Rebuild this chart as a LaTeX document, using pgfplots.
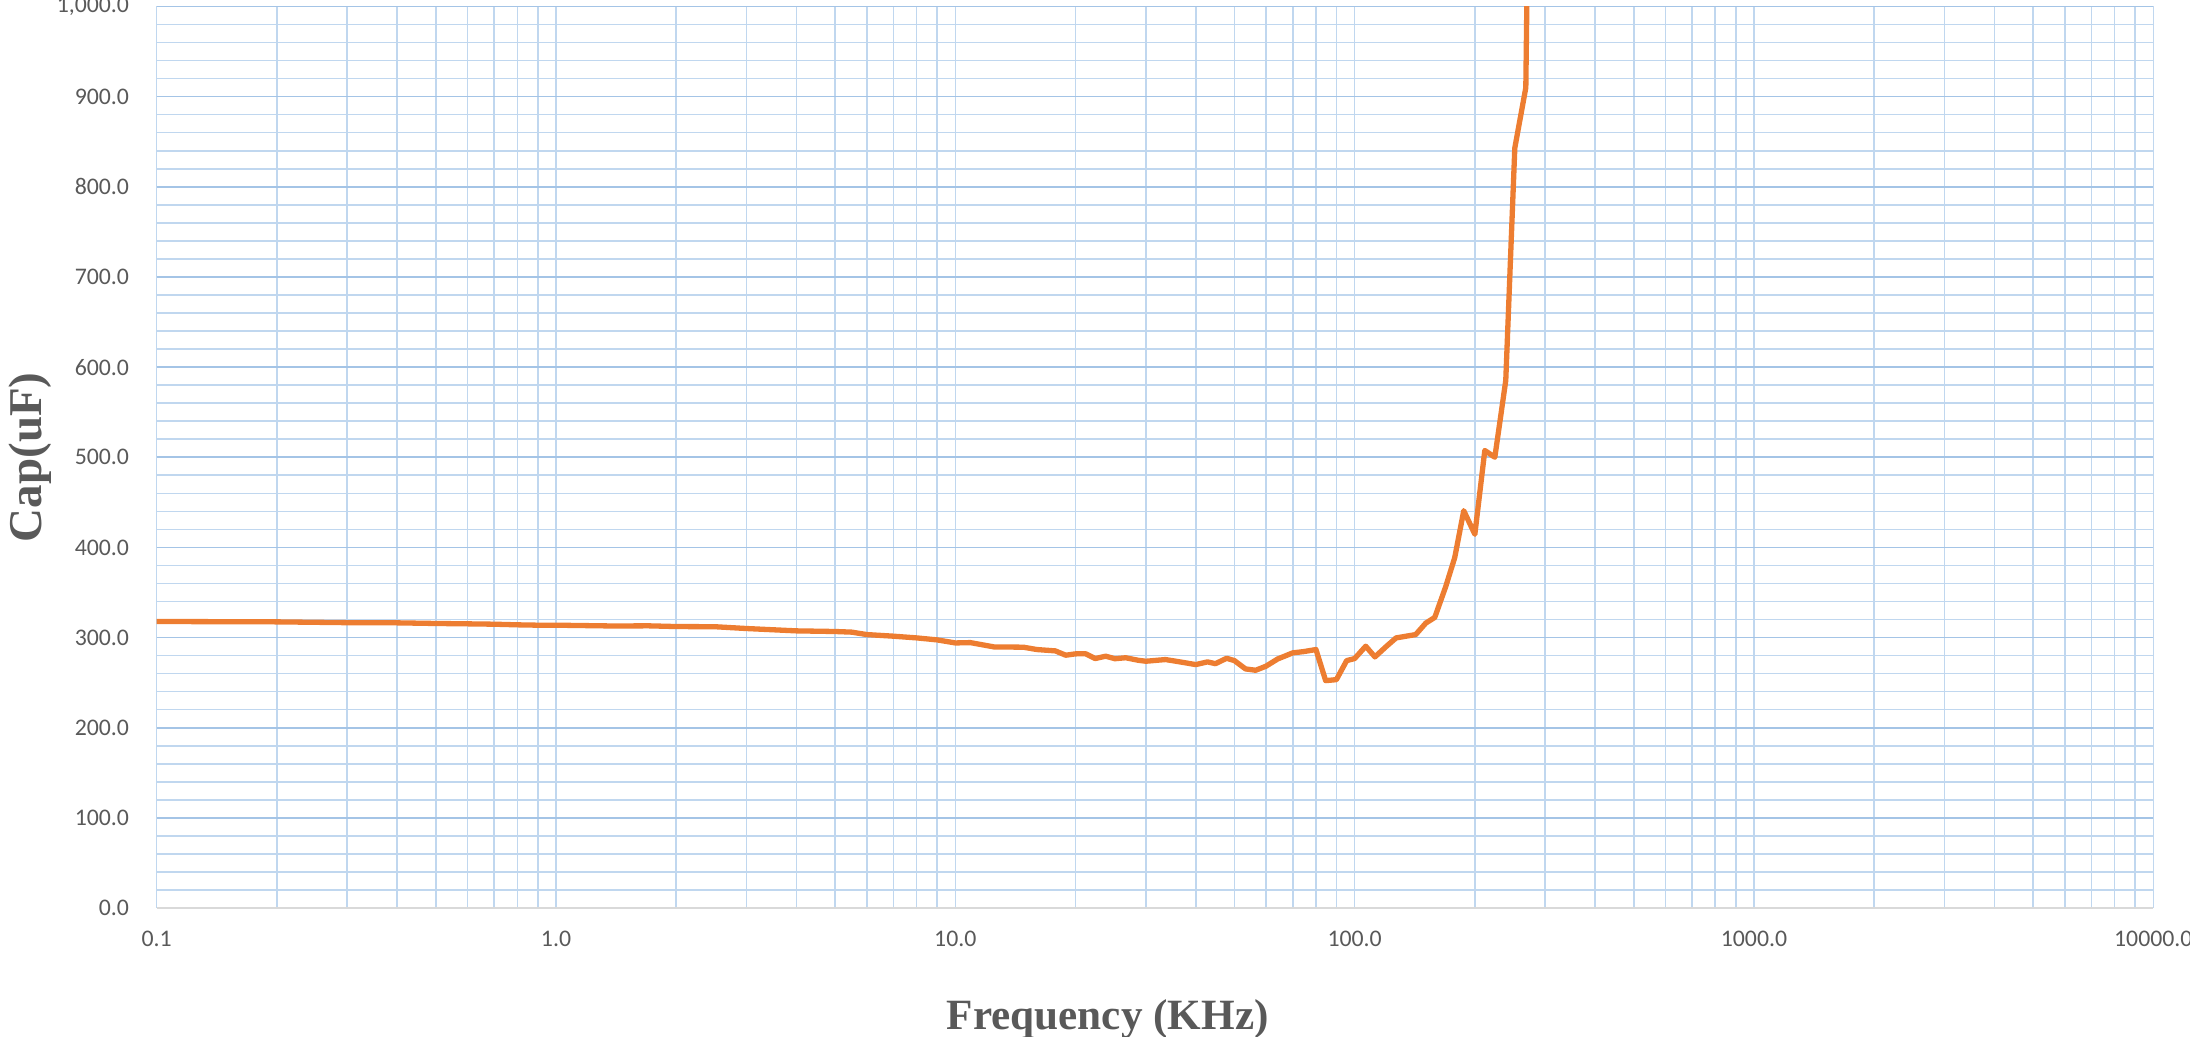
\documentclass[border=0pt]{standalone}
\usepackage{pgfplots}
\pgfplotsset{compat=1.18}
\usepackage{fontspec}
\setmainfont{Carlito}
\newfontfamily\titlefont{Liberation Serif}
\definecolor{lineor}{HTML}{ED7D31}
\definecolor{gmaj}{HTML}{A4C4E6}
\definecolor{gmin}{HTML}{C0D7EF}
\definecolor{txt}{HTML}{595959}
\definecolor{axgray}{HTML}{D9D9D9}
\begin{document}
\begin{tikzpicture}
\begin{axis}[name=ax, scale only axis, width=998.3pt, height=450.75pt,
  xmode=log, xmin=0.1, xmax=10000, ymin=0, ymax=1000,
  xtick={0.1,1,10,100,1000,10000},
  xticklabels={0.1,1.0,10.0,100.0,1000.0,10000.0},
  minor xtick={0.2,0.3,0.4,0.5,0.6,0.7,0.8,0.9,2,3,4,5,6,7,8,9,20,30,40,50,60,70,80,90,200,300,400,500,600,700,800,900,2000,3000,4000,5000,6000,7000,8000,9000},
  ytick={0,100,200,300,400,500,600,700,800,900,1000},
  yticklabels={0.0,100.0,200.0,300.0,400.0,500.0,600.0,700.0,800.0,900.0,{1,000.0}},
  minor y tick num=4,
  grid=both,
  major x grid style={gmin, line width=0.8pt},
  minor x grid style={gmin, line width=0.8pt},
  major y grid style={gmaj, line width=0.85pt},
  minor y grid style={gmin, line width=0.8pt},
  axis lines*=left,
  x axis line style={axgray, line width=0.8pt},
  y axis line style={draw=none},
  major tick length=0pt, minor tick length=0pt,
  tick label style={font=\fontsize{11.9}{14}\selectfont, text=txt},
  xticklabel style={yshift=-7.8pt},
  yticklabel style={xshift=-10.3pt},
  xlabel={Frequency (KHz)}, ylabel={Cap(uF)},
  xlabel style={font=\titlefont\bfseries\fontsize{21.6}{26}\selectfont, text=txt,
    at={(axis description cs:0.4763,-0.1346)}, anchor=base},
  ylabel style={font=\titlefont\bfseries\fontsize{23.5}{28}\selectfont, text=txt,
    at={(axis description cs:-0.05775,0.5)}, anchor=base},
]
\addplot[lineor, line width=2.65pt, line join=round, no markers] coordinates {
(0.1,317.8) (0.2,317.4) (0.3,316.5) (0.4,316.3) (0.5,315.6) (0.6,315.2)
(0.7,314.8) (0.8,314.1) (0.9,313.7) (1.0,313.7) (1.4,312.8) (1.7,313.0)
(2.0,312.2) (2.5,312.0) (3.0,310.0) (4.0,307.4) (5.0,306.7) (5.5,306.0)
(6.0,303.3) (7.0,301.5) (8.0,299.6) (9.0,297.4) (10.0,294.0) (10.9,294.4)
(12.5,289.6) (14.8,289.3) (16.0,286.7) (17.8,285.2) (18.9,280.4) (20.0,281.9)
(21.2,282.0) (22.4,276.7) (23.8,279.3) (25.1,276.5) (26.7,277.6) (28.7,274.8)
(30.0,273.7) (33.6,275.6) (36.5,273.0) (40.0,270.0) (42.8,273.0) (44.8,271.0)
(47.8,277.0) (50.0,274.4) (53.3,265.2) (56.5,263.7) (59.9,268.1) (64.2,276.3)
(70.0,283.0) (74.5,284.4) (80.0,286.7) (84.6,252.2) (90.0,253.3) (95.5,274.4)
(100.0,276.7) (106.6,290.4) (112.4,278.5) (120.2,290.4) (127.0,299.6) (142.2,303.3)
(150.7,316.0) (158.7,322.3) (169.0,356.3) (178.1,388.7) (187.6,440.7) (200.0,414.5)
(211.8,507.5) (224.4,500.0) (239.0,585.0) (251.8,843.0) (268.3,910.0) (284.0,1800.0)
};
\end{axis}
\pgfresetboundingbox
\path[use as bounding box] ([xshift=-78.35pt,yshift=-64.5pt]ax.south west) rectangle ([xshift=18.35pt,yshift=3.25pt]ax.north east);
\end{tikzpicture}
\end{document}
